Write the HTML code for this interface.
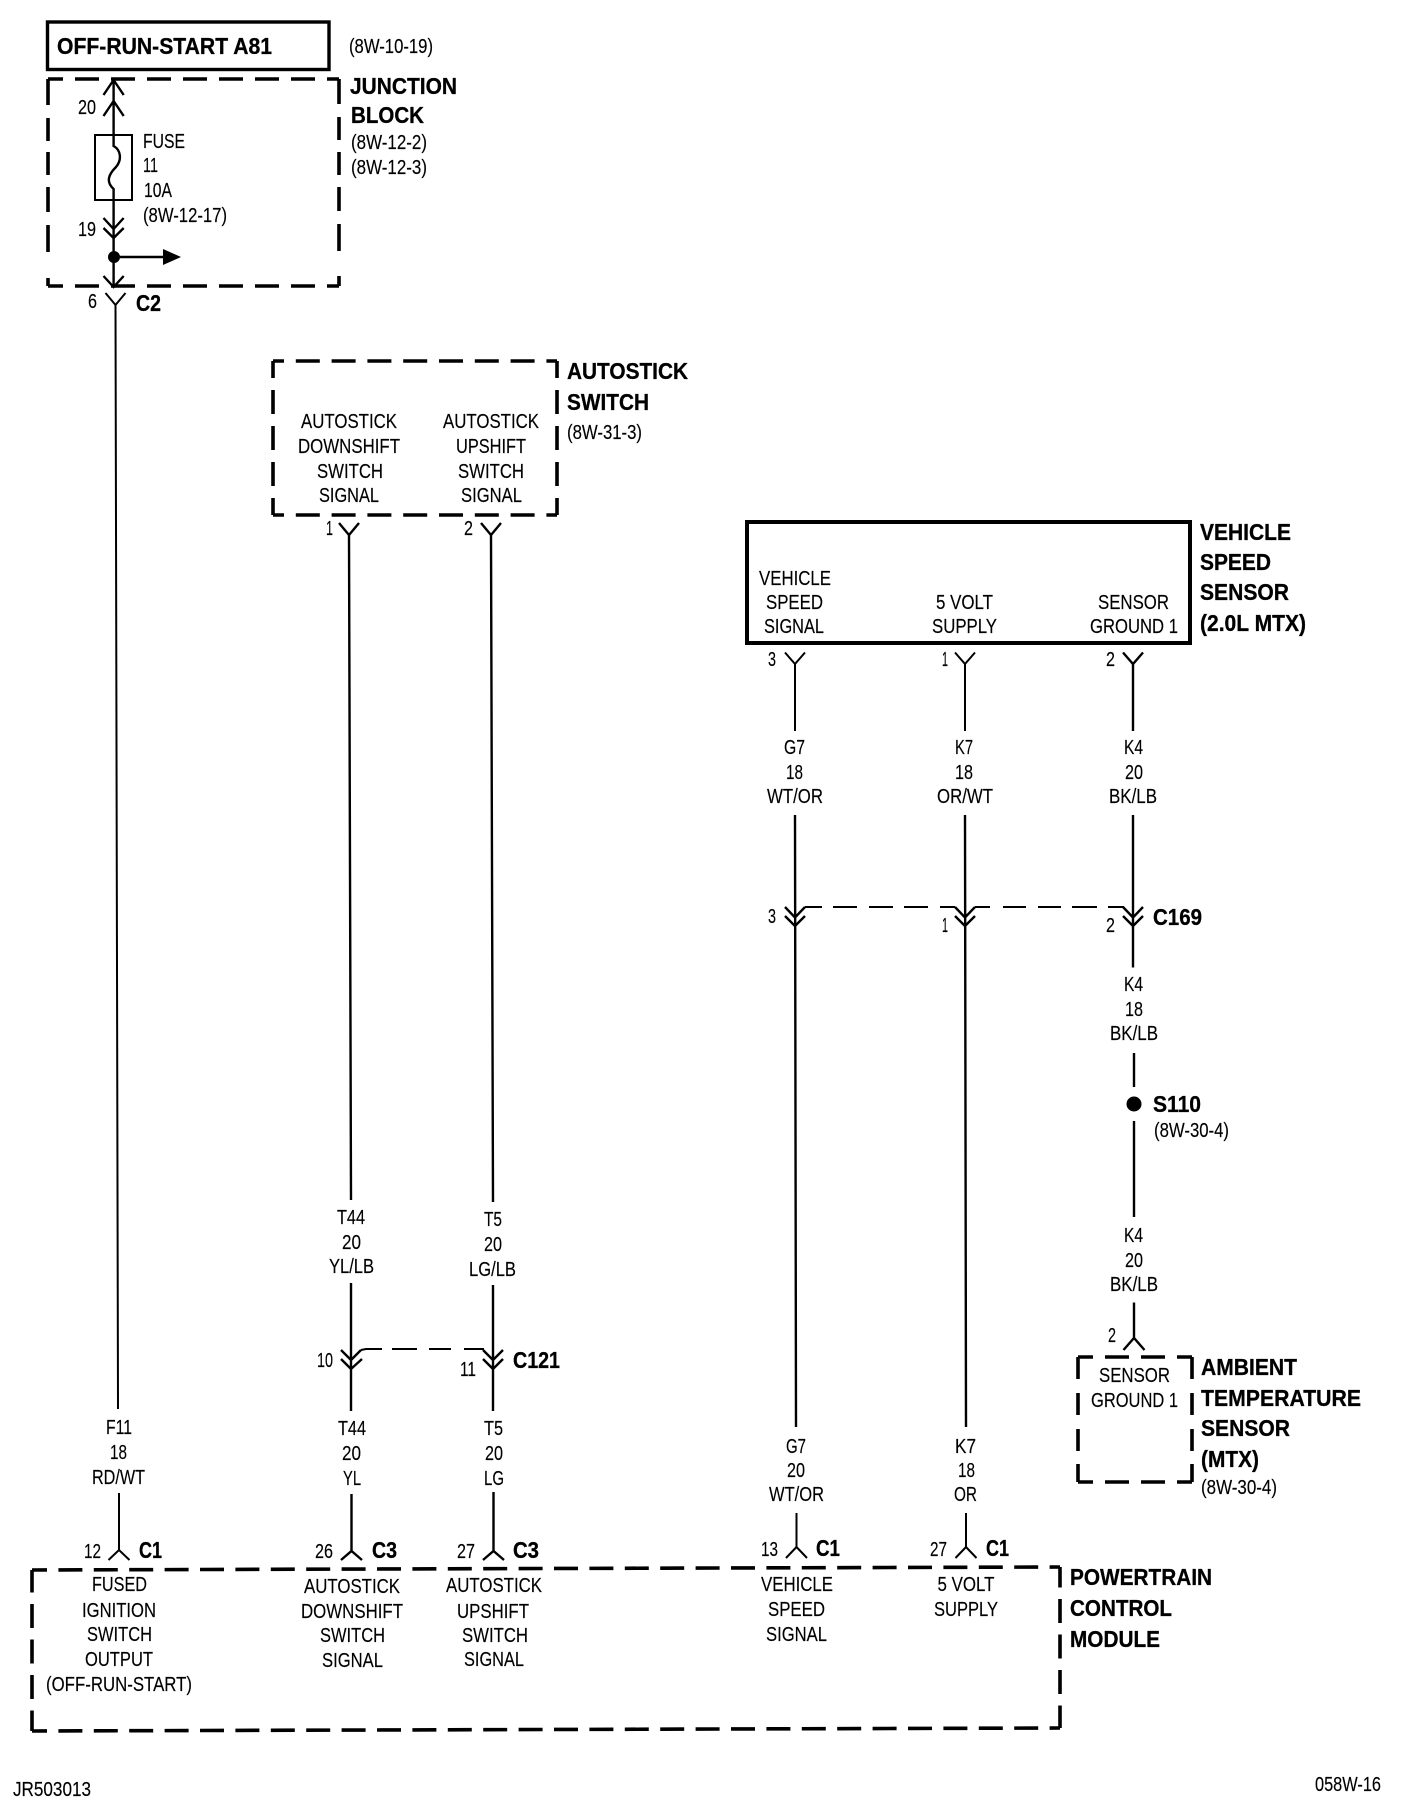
<!DOCTYPE html>
<html><head><meta charset="utf-8"><title>Wiring diagram</title>
<style>
html,body{margin:0;padding:0;background:#fff}
svg{display:block}
text{fill:#000;font-family:"Liberation Sans",sans-serif;transform:translateY(-0.8px)}
.t{font-size:20.5px;stroke:#000;stroke-width:.15px}
.b{font-size:23.5px;font-weight:bold;stroke:#000;stroke-width:.3px}
.w{stroke:#000;stroke-width:2.4;fill:none}
.n{stroke:#000;stroke-width:2.4;fill:none}
.d{stroke:#000;stroke-width:3.6;fill:none}
.s{stroke:#000;stroke-width:2;fill:none}
</style></head>
<body>
<svg width="1408" height="1812" viewBox="0 0 1408 1812" xmlns="http://www.w3.org/2000/svg">
<rect width="1408" height="1812" fill="#fff"/>

<!-- A81 -->
<rect x="47.5" y="22" width="281.5" height="47.5" fill="none" stroke="#000" stroke-width="3.4"/>
<text class="b" x="57" y="55" textLength="215" lengthAdjust="spacingAndGlyphs">OFF-RUN-START A81</text>
<text class="t" x="349" y="54" textLength="84" lengthAdjust="spacingAndGlyphs">(8W-10-19)</text>

<!-- Junction block -->
<g class="d">
<path d="M48 79H339" stroke-dasharray="24 12" stroke-dashoffset="9"/>
<path d="M48 286H339" stroke-dasharray="24 12" stroke-dashoffset="9"/>
<path d="M48 79V286" stroke-dasharray="26 13 23 11 23 12 25 13 27"/>
<path d="M339 79V286" stroke-dasharray="25 13 23 12 23 12 24 13 27"/>
</g>
<path class="n" d="M113.6 80V135M103.5 95L113.6 80L123.7 95M103.5 116L113.6 101L123.7 116"/>
<rect x="95" y="135" width="37" height="65" fill="none" stroke="#000" stroke-width="2"/>
<path class="n" d="M113.6 135V146C121 150 122 160 116 167C108 175 106 182 113.6 189V287"/>
<path class="n" d="M103.5 218L113.6 229L123.7 218M103.5 228L113.6 238L123.7 228M103.5 276L113.6 287L123.7 276"/>
<circle cx="114" cy="257" r="6" fill="#000"/>
<path class="n" d="M114 257H165"/>
<path d="M163 249L181 257L163 265Z" fill="#000"/>
<text class="t" x="78" y="115" textLength="18" lengthAdjust="spacingAndGlyphs">20</text>
<text class="t" x="78" y="237" textLength="18" lengthAdjust="spacingAndGlyphs">19</text>
<text class="t" x="143" y="149" textLength="42" lengthAdjust="spacingAndGlyphs">FUSE</text>
<text class="t" x="143" y="173" textLength="15" lengthAdjust="spacingAndGlyphs">11</text>
<text class="t" x="144" y="198" textLength="28" lengthAdjust="spacingAndGlyphs">10A</text>
<text class="t" x="143" y="223" textLength="84" lengthAdjust="spacingAndGlyphs">(8W-12-17)</text>
<text class="b" x="350" y="95" textLength="107" lengthAdjust="spacingAndGlyphs">JUNCTION</text>
<text class="b" x="351" y="124" textLength="73" lengthAdjust="spacingAndGlyphs">BLOCK</text>
<text class="t" x="351" y="150" textLength="76" lengthAdjust="spacingAndGlyphs">(8W-12-2)</text>
<text class="t" x="351" y="175" textLength="76" lengthAdjust="spacingAndGlyphs">(8W-12-3)</text>

<!-- C2 + F11 -->
<path class="s" d="M105.5 293L115.5 305L125.5 293M115.5 305L118 1409"/>
<text class="t" x="88" y="309" textLength="9" lengthAdjust="spacingAndGlyphs">6</text>
<text class="b" x="136" y="312" textLength="25" lengthAdjust="spacingAndGlyphs">C2</text>
<text class="t" x="106" y="1435" textLength="26" lengthAdjust="spacingAndGlyphs">F11</text>
<text class="t" x="110" y="1460" textLength="17" lengthAdjust="spacingAndGlyphs">18</text>
<text class="t" x="92" y="1485" textLength="53" lengthAdjust="spacingAndGlyphs">RD/WT</text>
<path class="s" d="M119 1493V1550M108.5 1560L119 1550L129.5 1560"/>
<text class="t" x="84" y="1559" textLength="17" lengthAdjust="spacingAndGlyphs">12</text>
<text class="b" x="139" y="1559" textLength="23" lengthAdjust="spacingAndGlyphs">C1</text>

<!-- Autostick switch -->
<g class="d">
<path d="M273 361H557" stroke-dasharray="24 11.8" stroke-dashoffset="13"/>
<path d="M273 515H557" stroke-dasharray="24 11.8" stroke-dashoffset="13"/>
<path d="M273 361V515" stroke-dasharray="24 12" stroke-dashoffset="7"/>
<path d="M557 361V515" stroke-dasharray="24 12" stroke-dashoffset="7"/>
</g>
<text class="b" x="567" y="380" textLength="121" lengthAdjust="spacingAndGlyphs">AUTOSTICK</text>
<text class="b" x="567" y="411" textLength="82" lengthAdjust="spacingAndGlyphs">SWITCH</text>
<text class="t" x="567" y="440" textLength="75" lengthAdjust="spacingAndGlyphs">(8W-31-3)</text>
<text class="t" x="301" y="429" textLength="96" lengthAdjust="spacingAndGlyphs">AUTOSTICK</text>
<text class="t" x="298" y="454" textLength="102" lengthAdjust="spacingAndGlyphs">DOWNSHIFT</text>
<text class="t" x="317" y="479" textLength="66" lengthAdjust="spacingAndGlyphs">SWITCH</text>
<text class="t" x="319" y="503" textLength="60" lengthAdjust="spacingAndGlyphs">SIGNAL</text>
<text class="t" x="443" y="429" textLength="96" lengthAdjust="spacingAndGlyphs">AUTOSTICK</text>
<text class="t" x="456" y="454" textLength="70" lengthAdjust="spacingAndGlyphs">UPSHIFT</text>
<text class="t" x="458" y="479" textLength="66" lengthAdjust="spacingAndGlyphs">SWITCH</text>
<text class="t" x="461" y="503" textLength="61" lengthAdjust="spacingAndGlyphs">SIGNAL</text>
<path class="w" d="M339 523L349 535L359 523M349 535L351 1200"/>
<path class="w" d="M481 523L491 535L501 523M491 535L493 1202"/>
<text class="t" x="326" y="536" textLength="7" lengthAdjust="spacingAndGlyphs">1</text>
<text class="t" x="464" y="536" textLength="9" lengthAdjust="spacingAndGlyphs">2</text>

<text class="t" x="337" y="1225" textLength="28" lengthAdjust="spacingAndGlyphs">T44</text>
<text class="t" x="342" y="1250" textLength="19" lengthAdjust="spacingAndGlyphs">20</text>
<text class="t" x="329" y="1274" textLength="45" lengthAdjust="spacingAndGlyphs">YL/LB</text>
<text class="t" x="484" y="1227" textLength="18" lengthAdjust="spacingAndGlyphs">T5</text>
<text class="t" x="484" y="1252" textLength="18" lengthAdjust="spacingAndGlyphs">20</text>
<text class="t" x="469" y="1277" textLength="47" lengthAdjust="spacingAndGlyphs">LG/LB</text>

<!-- C121 -->
<path class="n" d="M351 1283V1411M341 1350L351 1360L361 1350M341 1359L351 1369L362 1359"/>
<path class="n" d="M493 1285V1411M483 1350L493 1360L503 1350M483 1359L493 1369L503 1359"/>
<path class="s" d="M361 1350L366 1349H382M392 1349H417M429 1349H451M464 1349H484"/>
<text class="t" x="317" y="1368" textLength="16" lengthAdjust="spacingAndGlyphs">10</text>
<text class="t" x="460" y="1377" textLength="16" lengthAdjust="spacingAndGlyphs">11</text>
<text class="b" x="513" y="1369" textLength="47" lengthAdjust="spacingAndGlyphs">C121</text>
<text class="t" x="338" y="1436" textLength="28" lengthAdjust="spacingAndGlyphs">T44</text>
<text class="t" x="342" y="1461" textLength="19" lengthAdjust="spacingAndGlyphs">20</text>
<text class="t" x="343" y="1486" textLength="18" lengthAdjust="spacingAndGlyphs">YL</text>
<text class="t" x="484" y="1436" textLength="19" lengthAdjust="spacingAndGlyphs">T5</text>
<text class="t" x="485" y="1461" textLength="18" lengthAdjust="spacingAndGlyphs">20</text>
<text class="t" x="484" y="1486" textLength="20" lengthAdjust="spacingAndGlyphs">LG</text>
<path class="n" d="M351.5 1494V1551M341 1560L351.5 1551L362 1560"/>
<path class="n" d="M493.5 1492V1551M483 1560L493.5 1551L504 1560"/>
<text class="t" x="315" y="1559" textLength="18" lengthAdjust="spacingAndGlyphs">26</text>
<text class="b" x="372" y="1559" textLength="25" lengthAdjust="spacingAndGlyphs">C3</text>
<text class="t" x="457" y="1559" textLength="18" lengthAdjust="spacingAndGlyphs">27</text>
<text class="b" x="513" y="1559" textLength="26" lengthAdjust="spacingAndGlyphs">C3</text>

<!-- PCM -->
<g class="d">
<path d="M32 1570L1060 1567" stroke-dasharray="24 11.4" stroke-dashoffset="9"/>
<path d="M32 1731L1060 1728" stroke-dasharray="24 11.4" stroke-dashoffset="9"/>
<path d="M32 1570V1731" stroke-dasharray="24 11.5" stroke-dashoffset="1.5"/>
<path d="M1060 1567V1728" stroke-dasharray="24 11.5" stroke-dashoffset="3.5"/>
</g>
<text class="t" x="92" y="1592" textLength="55" lengthAdjust="spacingAndGlyphs">FUSED</text>
<text class="t" x="82" y="1618" textLength="74" lengthAdjust="spacingAndGlyphs">IGNITION</text>
<text class="t" x="87" y="1642" textLength="65" lengthAdjust="spacingAndGlyphs">SWITCH</text>
<text class="t" x="85" y="1667" textLength="68" lengthAdjust="spacingAndGlyphs">OUTPUT</text>
<text class="t" x="46" y="1692" textLength="146" lengthAdjust="spacingAndGlyphs">(OFF-RUN-START)</text>
<text class="t" x="304" y="1594" textLength="96" lengthAdjust="spacingAndGlyphs">AUTOSTICK</text>
<text class="t" x="301" y="1619" textLength="102" lengthAdjust="spacingAndGlyphs">DOWNSHIFT</text>
<text class="t" x="320" y="1643" textLength="65" lengthAdjust="spacingAndGlyphs">SWITCH</text>
<text class="t" x="322" y="1668" textLength="61" lengthAdjust="spacingAndGlyphs">SIGNAL</text>
<text class="t" x="446" y="1593" textLength="96" lengthAdjust="spacingAndGlyphs">AUTOSTICK</text>
<text class="t" x="457" y="1619" textLength="72" lengthAdjust="spacingAndGlyphs">UPSHIFT</text>
<text class="t" x="462" y="1643" textLength="66" lengthAdjust="spacingAndGlyphs">SWITCH</text>
<text class="t" x="464" y="1667" textLength="60" lengthAdjust="spacingAndGlyphs">SIGNAL</text>
<text class="t" x="761" y="1592" textLength="72" lengthAdjust="spacingAndGlyphs">VEHICLE</text>
<text class="t" x="768" y="1617" textLength="57" lengthAdjust="spacingAndGlyphs">SPEED</text>
<text class="t" x="766" y="1642" textLength="61" lengthAdjust="spacingAndGlyphs">SIGNAL</text>
<text class="t" x="937.5" y="1592" textLength="57" lengthAdjust="spacingAndGlyphs">5 VOLT</text>
<text class="t" x="934" y="1617" textLength="64" lengthAdjust="spacingAndGlyphs">SUPPLY</text>
<text class="b" x="1070" y="1586" textLength="142" lengthAdjust="spacingAndGlyphs">POWERTRAIN</text>
<text class="b" x="1070" y="1617" textLength="102" lengthAdjust="spacingAndGlyphs">CONTROL</text>
<text class="b" x="1070" y="1648" textLength="90" lengthAdjust="spacingAndGlyphs">MODULE</text>
<text class="t" x="13" y="1797" textLength="78" lengthAdjust="spacingAndGlyphs">JR503013</text>
<text class="t" x="1315" y="1792" textLength="66" lengthAdjust="spacingAndGlyphs">058W-16</text>

<!-- Vehicle speed sensor -->
<rect x="747" y="522" width="443" height="121" fill="none" stroke="#000" stroke-width="4"/>
<text class="t" x="759" y="586" textLength="72" lengthAdjust="spacingAndGlyphs">VEHICLE</text>
<text class="t" x="766" y="610" textLength="57" lengthAdjust="spacingAndGlyphs">SPEED</text>
<text class="t" x="764" y="634" textLength="60" lengthAdjust="spacingAndGlyphs">SIGNAL</text>
<text class="t" x="936" y="610" textLength="57" lengthAdjust="spacingAndGlyphs">5 VOLT</text>
<text class="t" x="932" y="634" textLength="65" lengthAdjust="spacingAndGlyphs">SUPPLY</text>
<text class="t" x="1098" y="610" textLength="71" lengthAdjust="spacingAndGlyphs">SENSOR</text>
<text class="t" x="1090" y="634" textLength="88" lengthAdjust="spacingAndGlyphs">GROUND 1</text>
<text class="b" x="1200" y="541" textLength="91" lengthAdjust="spacingAndGlyphs">VEHICLE</text>
<text class="b" x="1200" y="571" textLength="71" lengthAdjust="spacingAndGlyphs">SPEED</text>
<text class="b" x="1200" y="601" textLength="89" lengthAdjust="spacingAndGlyphs">SENSOR</text>
<text class="b" x="1200" y="632" textLength="106" lengthAdjust="spacingAndGlyphs">(2.0L MTX)</text>
<path class="s" d="M785 652.5L795 664L805 652.5M795 664V731"/>
<path class="s" d="M955 652.5L965 664L975 652.5M965 664V731"/>
<path class="n" d="M1123 652.5L1133 664L1143 652.5M1133 664V731"/>
<text class="t" x="768" y="667" textLength="8" lengthAdjust="spacingAndGlyphs">3</text>
<text class="t" x="942" y="667" textLength="6" lengthAdjust="spacingAndGlyphs">1</text>
<text class="t" x="1106" y="667" textLength="9" lengthAdjust="spacingAndGlyphs">2</text>
<text class="t" x="784" y="755" textLength="21" lengthAdjust="spacingAndGlyphs">G7</text>
<text class="t" x="786" y="780" textLength="17" lengthAdjust="spacingAndGlyphs">18</text>
<text class="t" x="767" y="804" textLength="56" lengthAdjust="spacingAndGlyphs">WT/OR</text>
<text class="t" x="955" y="755" textLength="18" lengthAdjust="spacingAndGlyphs">K7</text>
<text class="t" x="955" y="780" textLength="18" lengthAdjust="spacingAndGlyphs">18</text>
<text class="t" x="937" y="804" textLength="56" lengthAdjust="spacingAndGlyphs">OR/WT</text>
<text class="t" x="1124" y="755" textLength="19" lengthAdjust="spacingAndGlyphs">K4</text>
<text class="t" x="1125" y="780" textLength="18" lengthAdjust="spacingAndGlyphs">20</text>
<text class="t" x="1109" y="804" textLength="48" lengthAdjust="spacingAndGlyphs">BK/LB</text>

<!-- C169 -->
<path class="n" d="M795 815L796 1427M785 907L795 917.5L805 907M785 916L795 926L805 916"/>
<path class="n" d="M965 815L966 1427M955 907L965 917.5L975 907M955 916L965 926L975 916"/>
<path class="n" d="M1133 815V967.5M1123 907L1133 917.5L1143 907M1123 916L1133 926L1143 916"/>
<path class="s" d="M805 907H822M833 907H857M869 907H893M904 907H928M940 907H955M975 907H990M1003 907H1026M1038 907H1061M1072 907H1097M1108 907H1124"/>
<text class="t" x="768" y="924" textLength="8" lengthAdjust="spacingAndGlyphs">3</text>
<text class="t" x="942" y="933" textLength="6" lengthAdjust="spacingAndGlyphs">1</text>
<text class="t" x="1106" y="933" textLength="9" lengthAdjust="spacingAndGlyphs">2</text>
<text class="b" x="1153" y="926" textLength="49" lengthAdjust="spacingAndGlyphs">C169</text>
<text class="t" x="1124" y="992" textLength="19" lengthAdjust="spacingAndGlyphs">K4</text>
<text class="t" x="1125" y="1017" textLength="18" lengthAdjust="spacingAndGlyphs">18</text>
<text class="t" x="1110" y="1041" textLength="48" lengthAdjust="spacingAndGlyphs">BK/LB</text>

<!-- S110 -->
<path class="n" d="M1134 1053V1087M1134 1121V1217"/>
<circle cx="1134" cy="1104" r="7.5" fill="#000"/>
<text class="b" x="1153" y="1113" textLength="48" lengthAdjust="spacingAndGlyphs">S110</text>
<text class="t" x="1154" y="1138" textLength="75" lengthAdjust="spacingAndGlyphs">(8W-30-4)</text>
<text class="t" x="1124" y="1243" textLength="19" lengthAdjust="spacingAndGlyphs">K4</text>
<text class="t" x="1125" y="1268" textLength="18" lengthAdjust="spacingAndGlyphs">20</text>
<text class="t" x="1110" y="1292" textLength="48" lengthAdjust="spacingAndGlyphs">BK/LB</text>
<path class="n" d="M1134 1302.5V1338M1123.5 1350L1134 1338L1144.5 1350"/>
<text class="t" x="1108" y="1343" textLength="8" lengthAdjust="spacingAndGlyphs">2</text>

<!-- Ambient -->
<g class="d">
<path d="M1078 1357H1192" stroke-dasharray="24 12" stroke-dashoffset="9"/>
<path d="M1078 1482H1192" stroke-dasharray="24 12" stroke-dashoffset="9"/>
<path d="M1078 1357V1482" stroke-dasharray="22 14 22 14 22 13 18"/>
<path d="M1192 1357V1482" stroke-dasharray="22 14 22 14 22 13 18"/>
</g>
<text class="t" x="1099" y="1383" textLength="71" lengthAdjust="spacingAndGlyphs">SENSOR</text>
<text class="t" x="1091" y="1408" textLength="87" lengthAdjust="spacingAndGlyphs">GROUND 1</text>
<text class="b" x="1201" y="1376" textLength="96" lengthAdjust="spacingAndGlyphs">AMBIENT</text>
<text class="b" x="1201" y="1407" textLength="160" lengthAdjust="spacingAndGlyphs">TEMPERATURE</text>
<text class="b" x="1201" y="1437" textLength="89" lengthAdjust="spacingAndGlyphs">SENSOR</text>
<text class="b" x="1201" y="1468" textLength="58" lengthAdjust="spacingAndGlyphs">(MTX)</text>
<text class="t" x="1201" y="1495" textLength="76" lengthAdjust="spacingAndGlyphs">(8W-30-4)</text>

<!-- G7 / K7 lower -->
<text class="t" x="786" y="1454" textLength="20" lengthAdjust="spacingAndGlyphs">G7</text>
<text class="t" x="787" y="1478" textLength="18" lengthAdjust="spacingAndGlyphs">20</text>
<text class="t" x="769" y="1502" textLength="55" lengthAdjust="spacingAndGlyphs">WT/OR</text>
<text class="t" x="955" y="1454" textLength="21" lengthAdjust="spacingAndGlyphs">K7</text>
<text class="t" x="958" y="1478" textLength="17" lengthAdjust="spacingAndGlyphs">18</text>
<text class="t" x="954" y="1502" textLength="23" lengthAdjust="spacingAndGlyphs">OR</text>
<path class="s" d="M796.5 1513V1547M786 1558L796.5 1547L807 1558"/>
<path class="s" d="M966 1513V1547M955.5 1558L966 1547L976.5 1558"/>
<text class="t" x="761" y="1557" textLength="17" lengthAdjust="spacingAndGlyphs">13</text>
<text class="b" x="816" y="1557" textLength="24" lengthAdjust="spacingAndGlyphs">C1</text>
<text class="t" x="930" y="1557" textLength="17" lengthAdjust="spacingAndGlyphs">27</text>
<text class="b" x="986" y="1557" textLength="23" lengthAdjust="spacingAndGlyphs">C1</text>
</svg>
</body></html>
